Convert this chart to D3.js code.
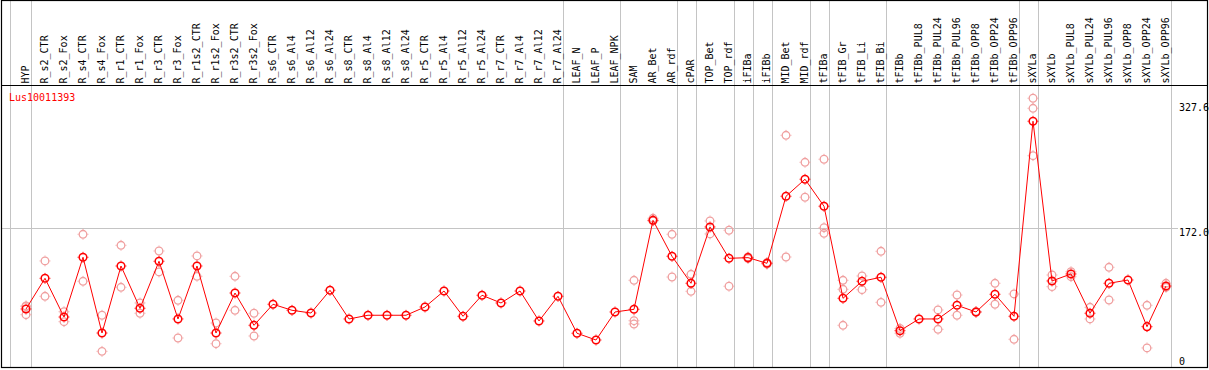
<!DOCTYPE html>
<html><head><meta charset="utf-8">
<script src="https://cdn.jsdelivr.net/npm/d3@7"></script>
<style>body{margin:0;background:#fff}svg{display:block}</style>
</head><body><svg id="c" width="1209" height="370"></svg>
<script>
const categories = ["HYP","R_s2_CTR","R_s2_Fox","R_s4_CTR","R_s4_Fox","R_r1_CTR","R_r1_Fox","R_r3_CTR","R_r3_Fox","R_r1s2_CTR","R_r1s2_Fox","R_r3s2_CTR","R_r3s2_Fox","R_s6_CTR","R_s6_Al4","R_s6_Al12","R_s6_Al24","R_s8_CTR","R_s8_Al4","R_s8_Al12","R_s8_Al24","R_r5_CTR","R_r5_Al4","R_r5_Al12","R_r5_Al24","R_r7_CTR","R_r7_Al4","R_r7_Al12","R_r7_Al24","LEAF_N","LEAF_P","LEAF_NPK","SAM","AR_Bet","AR_rdf","cPAR","TOP_Bet","TOP_rdf","iFIBa","iFIBb","MID_Bet","MID_rdf","tFIBa","tFIB_Gr","tFIB_Li","tFIB_Bi","tFIBb","tFIBb_PUL8","tFIBb_PUL24","tFIBb_PUL96","tFIBb_OPP8","tFIBb_OPP24","tFIBb_OPP96","sXYLa","sXYLb","sXYLb_PUL8","sXYLb_PUL24","sXYLb_PUL96","sXYLb_OPP8","sXYLb_OPP24","sXYLb_OPP96"];
const means = [71.2,109.4,61.2,135.6,41.3,124.7,72.1,130.6,58.8,124.7,41.3,91.1,50.9,77.1,69.6,66.2,94.5,58.8,63.4,63.4,63.4,73.7,93.6,62.1,88.3,78.7,93.6,56.3,87.0,41.0,32.6,67.5,70.8,181.6,136.8,103.2,173.3,134.3,135.1,128.1,211.5,232.7,199.1,84.5,105.7,110.7,44.2,58.8,58.8,75.8,67.5,89.5,62.1,304.9,106.1,114.8,65.9,103.2,107.3,49.2,99.8];
const replicates = [[75.0,64.1,74.5],[131.0,87.0],[67.8,55.4],[164.2,105.7],[63.4,18.5],[150.5,98.2],[78.7,65.9],[143.4,117.3],[82.0,35.1],[137.2,111.9],[53.8,28.0],[111.9,69.6],[65.9,37.6],
[],[],[],[],[],[],[],[],[],[],[],[],[],[],[],[],[],[],[],
[106.9,56.6,52.5],[184.1,180.8],[164.2,111.0],[114.4,93.2],[180.8,164.6],[169.2,99.5],[136,134],[129,127],[287.4,135.9],[253.8,210.3],[257.6,172.4,165.4],[106.9,95.7,50.9],[112.3,95.2],[143.0,79.5],[47,41],
[],[70.0,45.9],[88.6,63.4],[68,67],[103.2,77.1],[89.9,33.5],[333.5,321.0,262.0],[113.5,99.0],[117.6,111.4],[73.3,58.8],[123.1,82.4],[],[75.8,22.7],[103.2,98.2]];
const separatorsAfter = ["HYP","R_r7_Al24","LEAF_NPK","AR_rdf","cPAR","TOP_rdf","iFIBa","iFIBb","MID_rdf","tFIBa","tFIB_Bi","tFIBb_OPP96","sXYLa","sXYLb_OPP96"];
const yTicks = [327.6, 172.0, 0];
const geneLabel = "Lus10011393";

const svg = d3.select("#c");
const font = "'DejaVu Sans Mono', monospace";
const x = d3.scaleBand().domain(categories).range([16.5, 16.5 + 19*categories.length]).padding(0);
const cx = c => x(c) + x.bandwidth()/2;
const y = d3.scaleLinear().domain([0, 327.6]).range([366.2, 103]);

svg.append("rect").attr("width",1209).attr("height",370).attr("fill","#fff");

const seps = [10.5].concat(separatorsAfter.map(c => Math.round(x(c) + x.bandwidth() - 5) + 0.5));
svg.selectAll("line.sep").data(seps).enter().append("line")
  .attr("x1",d=>d).attr("x2",d=>d).attr("y1",0).attr("y2",368)
  .attr("stroke","#c4c4c4").attr("stroke-width",1);

svg.append("line").attr("x1",2).attr("x2",1178).attr("y1",Math.round(y(172))+0.5).attr("y2",Math.round(y(172))+0.5)
  .attr("stroke","#c4c4c4").attr("stroke-width",1);

svg.append("rect").attr("x",1.5).attr("y",0.5).attr("width",1206).attr("height",367)
  .attr("fill","none").attr("stroke","#000").attr("stroke-width",1.2);
svg.append("line").attr("x1",1).attr("x2",1208).attr("y1",85.5).attr("y2",85.5).attr("stroke","#000").attr("stroke-width",1.2);

svg.selectAll("text.col").data(categories).enter().append("text")
  .attr("transform", c => `translate(${x(c)+12.8},83.5) rotate(-90)`)
  .attr("font-family",font).attr("font-size","10px").attr("fill","#000")
  .text(c=>c);

svg.append("text").attr("x",9).attr("y",101).attr("font-family",font).attr("font-size","10px").attr("fill","#ff0000").text(geneLabel);

svg.selectAll("text.yt").data(yTicks).enter().append("text")
  .attr("x",1179)
  .attr("y", d => d === 0 ? 365 : y(d) + 8)
  .attr("font-family",font).attr("font-size","10px").attr("fill","#000")
  .text(d => d === 0 ? "0" : d.toFixed(1));

function marker(g, color, sw){
  g.append("circle").attr("r",3.8).attr("fill","none").attr("stroke",color).attr("stroke-width",sw);
  g.append("path").attr("d","M0,-5.4V-4.4M0,4.4V5.4M-5.4,0H-4.4M4.4,0H5.4").attr("stroke",color).attr("stroke-width",1);
}

const repData = [];
categories.forEach((c,i)=>replicates[i].forEach(v=>repData.push({c,v})));
svg.selectAll("g.rep").data(repData).enter().append("g")
  .attr("transform", d=>`translate(${cx(d.c)},${y(d.v)})`)
  .each(function(){ marker(d3.select(this), "#f0a0a0", 1.3); });

const line = d3.line().x((d,i)=>cx(categories[i])).y(d=>y(d));
svg.append("path").datum(means).attr("d",line).attr("fill","none").attr("stroke","#ff0000").attr("stroke-width",1);

svg.selectAll("g.mean").data(means).enter().append("g")
  .attr("transform", (d,i)=>`translate(${cx(categories[i])},${y(d)})`)
  .each(function(){ marker(d3.select(this), "#ff0000", 1.5); });
</script></body></html>
